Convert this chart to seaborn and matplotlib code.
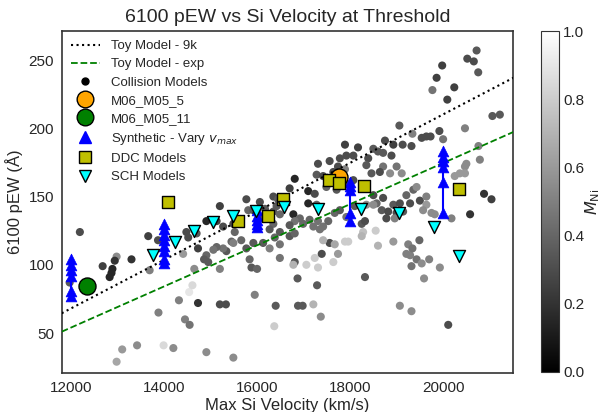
import matplotlib
matplotlib.use("Agg")
import matplotlib.pyplot as plt
from matplotlib.lines import Line2D
from matplotlib.cm import ScalarMappable
from matplotlib.colors import Normalize
import numpy as np
import pandas as pd
import seaborn as sns

# ---------------- data ----------------
coll_v = [20720, 20520, 20660, 20755, 19980, 19860, 19770, 20240, 20090, 21060, 21220, 20470,
          19060, 19340, 19540, 19640, 19730, 19920, 20000, 18750, 17890, 18170, 18500, 18600,
          18710, 18930, 19130, 19320, 18890, 18390, 18350, 18460, 18710, 18640, 18860, 19000,
          19110, 20760, 20790, 20500, 20470, 20250, 20360, 20470, 17920, 18070, 17780, 17740,
          17560, 17310, 17280, 17420, 17640, 17890, 16810, 16700, 17100, 17240, 17490, 17710,
          17960, 18070, 18500, 18570, 18710, 18680, 18820, 18930, 19070, 19210, 19360, 19430,
          19290, 19500, 19640, 19640, 19570, 19140, 19000, 18780, 18960, 19750, 19820, 20180,
          20580, 20880, 21040, 16350, 16450, 16420, 16350, 16780, 16920, 16810, 16700, 16990,
          17130, 17210, 17310, 17420, 17350, 17530, 17670, 17780, 17920, 18100, 18250, 18320,
          18350, 18500, 17100, 17280, 15770, 15810, 15920, 16060, 16170, 16350, 16490, 16380,
          16490, 16270, 16130, 15920, 15770, 15660, 15520, 15450, 15340, 15270, 15130, 15060,
          14910, 14950, 14860, 14730, 15200, 14910, 15130, 14700, 14480, 14520, 14410, 14650,
          15200, 13870, 13660, 13690, 13300, 12980, 12940, 12890, 12870, 12830, 12680, 12190,
          11970, 15880, 15840, 16000, 16490, 16810, 16780, 17060, 17240, 17310, 17390, 17560,
          17640, 17740, 17420, 17670, 17890, 17960, 18280, 18250, 18550, 18600, 18930, 19250,
          19490, 19210, 19290, 19340, 19430, 19540, 19700, 19320, 19590, 19930, 20110, 19070,
          19320, 18320, 17290, 16870, 17370, 17210, 16880, 16980, 16400, 16370, 15950, 15200,
          15330, 14730, 14320, 14540, 14610, 14450, 14550, 13880, 13420, 13100, 12980, 13990,
          14200, 14910, 15490, 15490, 15270, 15490, 16060, 16270, 16700, 16810, 16490]
coll_pew = [257, 251, 249, 241, 246, 237, 228, 230, 221, 209, 210, 200,
            202, 196, 193, 194, 194, 198, 192, 191, 188, 186, 185, 183,
            182, 188, 188, 187, 180, 178, 173, 167, 172, 168, 167, 172,
            167, 187, 177, 174, 172, 165, 167, 167, 180, 180, 178, 172,
            176, 174, 166, 165, 168, 170, 163, 156, 154, 152, 157, 155,
            159, 162, 151, 145, 149, 140, 139, 144, 145, 151, 155, 157,
            145, 147, 150, 144, 140, 139, 138, 134, 134, 138, 137, 134,
            137, 152, 148, 150, 148, 143, 139, 137, 134, 132, 129, 130,
            133, 128, 132, 128, 126, 132, 138, 140, 135, 143, 130, 132,
            144, 144, 145, 144, 148, 140, 140, 146, 141, 130, 124, 120,
            115, 112, 116, 116, 112, 118, 124, 117, 110, 112, 113, 111,
            107, 102, 104, 112, 143, 132, 132, 123, 124, 120, 108, 97,
            97, 118, 121, 96, 104, 106, 103, 97, 94, 91, 99, 124,
            87, 98, 104, 97, 105, 102, 100, 100, 105, 98, 108, 116,
            102, 108, 118, 115, 117, 117, 124, 121, 125, 114, 117, 115,
            118, 108, 107, 112, 104, 101, 104, 99, 90, 98, 56, 70,
            66, 91, 85, 90, 62, 71, 70, 70, 70, 55, 78, 71,
            71, 72, 74, 80, 85, 60, 56, 65, 41, 38, 29, 41,
            39, 36, 32, 130, 128, 116, 135, 126, 121, 123, 137]
coll_ni = [0.35, 0.3, 0.3, 0.35, 0.25, 0.25, 0.45, 0.25, 0.25, 0.35, 0.35, 0.5,
           0.35, 0.5, 0.3, 0.3, 0.3, 0.3, 0.45, 0.3, 0.25, 0.25, 0.35, 0.35,
           0.35, 0.25, 0.3, 0.3, 0.3, 0.3, 0.35, 0.35, 0.45, 0.3, 0.55, 0.45,
           0.55, 0.5, 0.5, 0.55, 0.55, 0.6, 0.6, 0.6, 0.3, 0.3, 0.3, 0.3,
           0.3, 0.3, 0.35, 0.3, 0.3, 0.5, 0.15, 0.25, 0.15, 0.3, 0.4, 0.35,
           0.35, 0.3, 0.3, 0.4, 0.3, 0.35, 0.3, 0.35, 0.3, 0.4, 0.4, 0.55,
           0.3, 0.3, 0.5, 0.6, 0.55, 0.35, 0.3, 0.3, 0.5, 0.55, 0.55, 0.5,
           0.2, 0.2, 0.25, 0.3, 0.35, 0.35, 0.35, 0.15, 0.4, 0.45, 0.35, 0.4,
           0.4, 0.45, 0.45, 0.45, 0.45, 0.4, 0.4, 0.35, 0.45, 0.35, 0.35, 0.3,
           0.55, 0.55, 0.15, 0.4, 0.3, 0.4, 0.35, 0.3, 0.35, 0.4, 0.35, 0.4,
           0.45, 0.5, 0.35, 0.35, 0.35, 0.4, 0.4, 0.4, 0.35, 0.45, 0.4, 0.45,
           0.4, 0.35, 0.35, 0.25, 0.25, 0.15, 0.25, 0.35, 0.3, 0.3, 0.6, 0.55,
           0.5, 0.3, 0.25, 0.5, 0.2, 0.55, 0.2, 0.15, 0.15, 0.15, 0.25, 0.3,
           0.35, 0.35, 0.4, 0.4, 0.45, 0.35, 0.7, 0.8, 0.8, 0.8, 0.3, 0.3,
           0.8, 0.6, 0.7, 0.65, 0.8, 0.8, 0.75, 0.7, 0.8, 0.7, 0.6, 0.5,
           0.4, 0.5, 0.5, 0.45, 0.45, 0.55, 0.5, 0.45, 0.55, 0.55, 0.3, 0.55,
           0.55, 0.35, 0.35, 0.35, 0.55, 0.7, 0.35, 0.35, 0.35, 0.8, 0.5, 0.3,
           0.3, 0.2, 0.5, 0.9, 0.85, 0.5, 0.45, 0.5, 0.55, 0.6, 0.65, 0.85,
           0.55, 0.55, 0.55, 0.3, 0.3, 0.5, 0.35, 0.35, 0.35, 0.4, 0.4]

m5_v, m5_pew = [17765], [164.6]
m11_v, m11_pew = [12350], [84.6]

ddc_v = [14094, 15593, 16238, 16547, 17550, 17765, 18296, 20339]
ddc_pew = [145.9, 132.2, 136.1, 148.0, 162.2, 159.8, 157.8, 155.6]

sch_v = [13765, 14245, 14646, 15055, 15485, 15987, 16582, 17300, 18232, 19056, 19802, 20333]
sch_pew = [107.3, 116.8, 124.6, 131.5, 135.9, 139.5, 142.0, 140.7, 140.7, 138.3, 127.6, 106.1]

syn_v = [12000, 14000, 16000, 18000, 20000]
syn_pew = [[104, 100, 96, 92, 81, 77],
           [130, 126, 122, 118, 114, 110, 104, 101],
           [140, 136, 133, 130, 128],
           [161, 158, 155, 138, 132],
           [183, 179, 176, 172, 161, 138]]

toy_v = [11800, 21510]
toy_9k = [64.5, 237.0]
toy_exp = [51.0, 197.3]

# ---------------- plot ----------------
sns.set_style("white")
plt.rcParams['font.family'] = ['Liberation Sans', 'DejaVu Sans']

fig = plt.figure(figsize=(6.04, 4.12), dpi=100)
ax = fig.add_axes([0.1022, 0.0939, 0.7477, 0.8316])
cax = fig.add_axes([0.8957, 0.0975, 0.0298, 0.827])

coll = pd.DataFrame({"v": coll_v, "pew": coll_pew, "ni": coll_ni})
sns.scatterplot(data=coll, x="v", y="pew", hue="ni", palette="gray", hue_norm=(0, 1),
                s=34, edgecolor="none", linewidth=0, legend=False, ax=ax, zorder=2)

sns.lineplot(x=toy_v, y=toy_9k, color="black", linestyle=":", linewidth=1.5, ax=ax, zorder=3)
sns.lineplot(x=toy_v, y=toy_exp, color="green", linestyle="--", linewidth=1.3, ax=ax, zorder=3)

for v, pews in zip(syn_v, syn_pew):
    ax.plot([v] * len(pews), pews, color="blue", linewidth=1.5, zorder=4)
    sns.scatterplot(x=[v] * len(pews), y=pews, marker="^", color="blue", s=60,
                    edgecolor="blue", linewidth=0.5, ax=ax, zorder=5, legend=False)

sns.scatterplot(x=m5_v, y=m5_pew, color="orange", s=150, edgecolor="black",
                linewidth=1, ax=ax, zorder=4, legend=False)
sns.scatterplot(x=m11_v, y=m11_pew, color="green", s=150, edgecolor="black",
                linewidth=1, ax=ax, zorder=4, legend=False)
sns.scatterplot(x=ddc_v, y=ddc_pew, marker="s", color="#bfbf00", s=70, edgecolor="black",
                linewidth=1, ax=ax, zorder=6, legend=False)
sns.scatterplot(x=sch_v, y=sch_pew, marker="v", color="cyan", s=75, edgecolor="black",
                linewidth=1, ax=ax, zorder=6, legend=False)

ax.set_xlim(11800, 21510)
ax.set_ylim(20.5, 271.5)
ax.set_xticks([12000, 14000, 16000, 18000, 20000])
ax.set_yticks([50, 100, 150, 200, 250])
ax.tick_params(labelsize=11, pad=2)
ax.set_xlabel("Max Si Velocity (km/s)", fontsize=12, labelpad=2)
ax.set_ylabel("6100 pEW (Å)", fontsize=12, labelpad=4)
ax.set_title("6100 pEW vs Si Velocity at Threshold", fontsize=14)
for sp in ax.spines.values():
    sp.set_color("#333333")
    sp.set_linewidth(1.2)

handles = [
    Line2D([], [], color="black", linestyle=":", linewidth=1.5),
    Line2D([], [], color="green", linestyle="--", linewidth=1.3),
    Line2D([], [], color="black", marker="o", linestyle="none", markersize=5),
    Line2D([], [], color="orange", marker="o", linestyle="none", markersize=12, markeredgecolor="black"),
    Line2D([], [], color="green", marker="o", linestyle="none", markersize=12, markeredgecolor="black"),
    Line2D([], [], color="blue", marker="^", linestyle="none", markersize=8),
    Line2D([], [], color="#bfbf00", marker="s", linestyle="none", markersize=8, markeredgecolor="black"),
    Line2D([], [], color="cyan", marker="v", linestyle="none", markersize=9, markeredgecolor="black"),
]
labels = ["Toy Model - 9k", "Toy Model - exp", "Collision Models", "M06_M05_5",
          "M06_M05_11", "Synthetic - Vary $v_{max}$", "DDC Models", "SCH Models"]
ax.legend(handles, labels, loc="upper left", frameon=False, fontsize=9.5,
          handlelength=2.2, labelspacing=0.45, borderaxespad=0.3)

sm = ScalarMappable(norm=Normalize(0, 1), cmap="gray")
cb = fig.colorbar(sm, cax=cax)
cb.set_ticks([0.0, 0.2, 0.4, 0.6, 0.8, 1.0])
cb.ax.tick_params(labelsize=11, length=0, pad=3)
cb.set_label(r"$M_{\rm Ni}$", fontsize=11.5, labelpad=-1)
cb.outline.set_edgecolor("#333333")

fig.savefig("out.png", dpi=100)
